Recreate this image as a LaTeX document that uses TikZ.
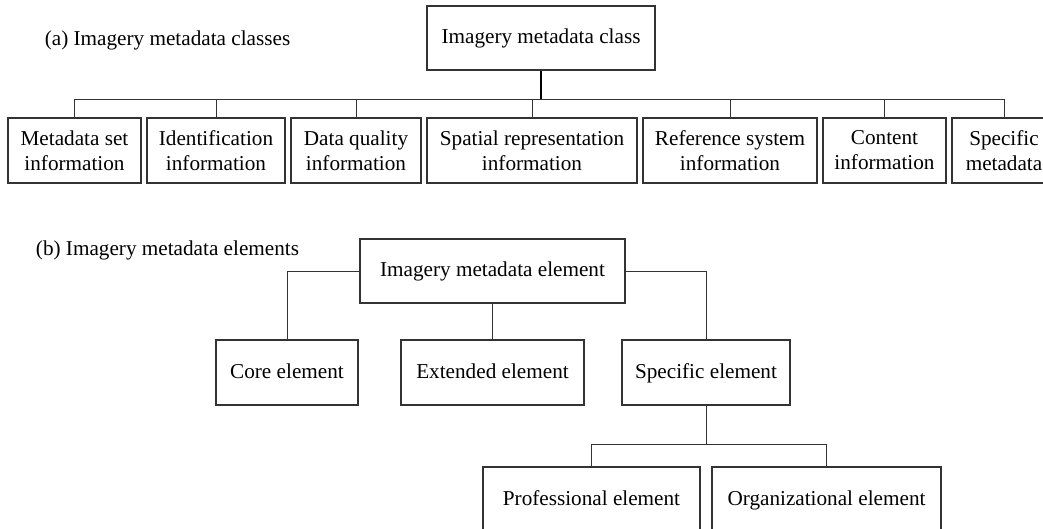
\documentclass[tikz,border=0pt]{standalone}
\usepackage{fontspec}
\setmainfont{Liberation Serif}
\usetikzlibrary{positioning}
\tikzstyle{classbox}=[draw=black!80,line width=1.2pt,align=center,inner sep=0pt,minimum height=65pt,font=\fontsize{21.2}{25}\selectfont]
\tikzstyle{onerow}=[classbox,text height=15pt,text depth=4pt]
\tikzstyle{link}=[draw=black!80,line width=1pt]
\tikzstyle{caption}=[font=\fontsize{21.2}{25}\selectfont]
\begin{document}
\begin{tikzpicture}[x=1pt,y=-1pt]

   \clip (0,0) rectangle (1043,528);

% (a) classes
  \node[caption] (capA) at (167.5,40) {(a) Imagery metadata classes};
  \node[onerow,minimum width=228pt,minimum height=64pt] (rootA) at (541,38) {Imagery metadata class};
  \coordinate (busA) at (541,99);

    \foreach \x/\w/\name/\txt in {74.5/133/meta/{Metadata set\\information}, 216/138/ident/{Identification\\information}, 356/130/quality/{Data quality\\information}, 532/210/spatial/{Spatial representation\\information}, 730/174/refsys/{Reference system\\information}, 884.5/123/content/{Content\\information}, 1004/104/specmeta/{Specific\\metadata}}
        \node[classbox,minimum width=\w pt] (\name) at (\x,150.5) {\txt};

  \draw[line width=2pt] (rootA.south) -- (busA);
    \foreach \name in {meta,ident,quality,spatial,refsys,content,specmeta}
        \draw[link] (busA) -| (\name.north);

% (b) elements
  \node[caption] (capB) at (167.5,250) {(b) Imagery metadata elements};
  \node[onerow,minimum width=265pt,minimum height=64pt] (rootB) at (492.5,271) {Imagery metadata element};

    \foreach \x/\w/\name/\txt in {287/142/core/{Core element}, 492.5/183/extended/{Extended element}, 706/168/specific/{Specific element}}
        \node[onerow,minimum width=\w pt] (\name) at (\x,372.5) {\txt};

  \coordinate (busB) at (706,444);
  \node[onerow,minimum width=217pt] (professional) at (591.5,499.5) {Professional element};
  \node[onerow,minimum width=229pt] (organizational) at (826.5,499.5) {Organizational element};

  \draw[link] (rootB.west) -| (core.north);
  \draw[link] (rootB.south) -- (extended.north);
  \draw[link] (rootB.east) -| (specific.north);
  \draw[link] (specific.south) -- (busB);
  \draw[link] (busB) -| (professional.north);
  \draw[link] (busB) -| (organizational.north);

\end{tikzpicture}
\end{document}
